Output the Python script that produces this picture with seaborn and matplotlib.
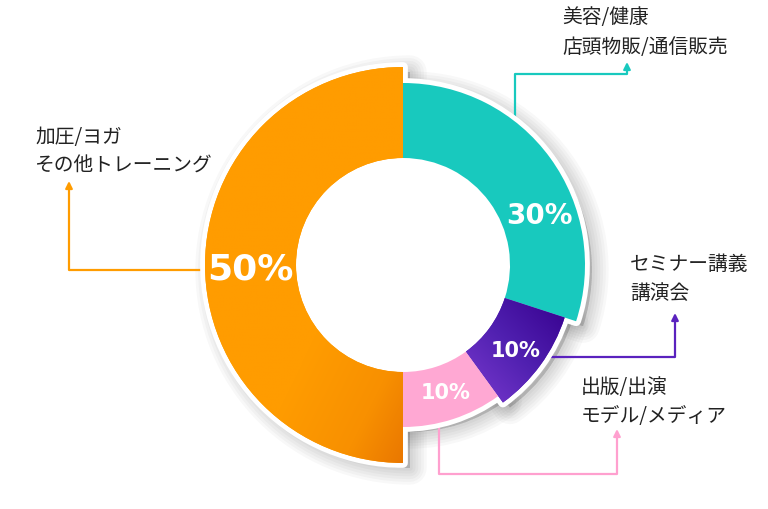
import numpy as np
import matplotlib
matplotlib.use('Agg')
import matplotlib.pyplot as plt
import seaborn as sns
from matplotlib.patches import Wedge, Circle
from matplotlib.colors import LinearSegmentedColormap

# データ
categories = [['美容/健康', '店頭物販/通信販売'],
              ['セミナー講義', '講演会'],
              ['出版/出演', 'モデル/メディア'],
              ['加圧/ヨガ', 'その他トレーニング']]
shares = [30, 10, 10, 50]
pct_labels = ['30%', '10%', '10%', '50%']

# スタイル
sns.set_theme(style='white')
plt.rcParams['font.family'] = ['Noto Sans CJK JP', 'DejaVu Sans']
colors = sns.color_palette(['#18C9BE', '#5520B4', '#FFA8D3', '#FF9C00'])

W, H = 768, 510
cx, cy = 403, H - 266
inner = 107
radii = [182, 170, 162, 198]
pct_pos = [(539, 216), (516, 351), (446, 393), (250, 269)]
pct_size = [20, 15, 15, 26]
label_pos = [(562, 18), (630, 264), (581, 388), (35, 137)]
line_col = ['#18C9BE', '#5A22BE', '#FFA0CF', '#FF9C00']
connectors = [[(515, 125), (515, 75), (627, 75), (627, 63)],
              [(545, 358), (675, 358), (675, 314)],
              [(439, 428), (439, 475), (617, 475), (617, 430)],
              [(207, 271), (69, 271), (69, 182)]]

fig = plt.figure(figsize=(W / 100, H / 100), dpi=100)
ax = fig.add_axes([0, 0, 1, 1])
ax.set_xlim(0, W)
ax.set_ylim(0, H)
ax.set_aspect('equal')
ax.axis('off')

# 角度（12時から時計回り）
ends = 90 - 3.6 * np.concatenate([[0], np.cumsum(shares)[:-1]])
starts = ends - 3.6 * np.array(shares)

# 影
for lw in [24, 20, 16, 12, 8, 4]:
    for i in range(len(shares)):
        ax.add_patch(Wedge((cx + 7, cy - 5), radii[i], starts[i], ends[i], width=radii[i] - inner,
                           facecolor=(0, 0, 0, 0.028), edgecolor=(0, 0, 0, 0.028), lw=lw, joinstyle='round', zorder=1))
ax.add_patch(Circle((cx, cy), inner - 2, color='white', zorder=2))

# 白い縁
for i in range(len(shares)):
    ax.add_patch(Wedge((cx, cy), radii[i], starts[i], ends[i], width=radii[i] - inner,
                       facecolor='white', edgecolor='white', lw=7, joinstyle='round', zorder=3))

# 本体（グラデーション付き）
grad_cmaps = {1: LinearSegmentedColormap.from_list('pu', ['#36008E', '#5020B0', '#7A3ACF']),
              3: LinearSegmentedColormap.from_list('or', [(0, '#FF9C00'), (0.62, '#FF9C00'),
                                                          (0.85, '#F89000'), (1, '#EA7800')])}
for i in range(len(shares)):
    wdg = Wedge((cx, cy), radii[i], starts[i], ends[i], width=radii[i] - inner,
                facecolor=colors[i], edgecolor='none', zorder=4)
    ax.add_patch(wdg)
    if i in grad_cmaps:
        gx, gy = np.meshgrid(np.linspace(0, 1, 200), np.linspace(0, 1, 200))
        if i == 1:
            g = ((1 - gx) + gy) / 2   # 右上が濃い
        else:
            g = (gx + gy) / 2         # 右下が濃い
        bb = wdg.get_path().get_extents()
        im = ax.imshow(g, cmap=grad_cmaps[i], extent=(bb.x0, bb.x1, bb.y0, bb.y1),
                       origin='upper', zorder=5, interpolation='bilinear')
        im.set_clip_path(wdg)
        ax.set_xlim(0, W)
        ax.set_ylim(0, H)

# パーセント表示
for i in range(len(shares)):
    x, y = pct_pos[i]
    ax.text(x, H - y, pct_labels[i], color='white', fontsize=pct_size[i], fontweight='bold',
            family='DejaVu Sans', ha='center', va='center', zorder=6)

# 引き出し線とラベル
for i in range(len(shares)):
    pts = connectors[i]
    xs = [p[0] for p in pts[:-1]]
    ys = [H - p[1] for p in pts[:-1]]
    ax.plot(xs, ys, color=line_col[i], lw=1.6, zorder=2.5, solid_capstyle='butt')
    ax.annotate('', xy=(pts[-1][0], H - pts[-1][1]), xytext=(pts[-2][0], H - pts[-2][1]),
                arrowprops=dict(arrowstyle='-|>', color=line_col[i], lw=1.6, mutation_scale=10,
                                shrinkA=0, shrinkB=0), zorder=2.5)
    lx, ly = label_pos[i]
    for k, line in enumerate(categories[i]):
        ax.text(lx, H - ly - 29 * k, line, fontsize=14.2, color='#222222', ha='left', va='center')

fig.savefig('out.png', dpi=100)
